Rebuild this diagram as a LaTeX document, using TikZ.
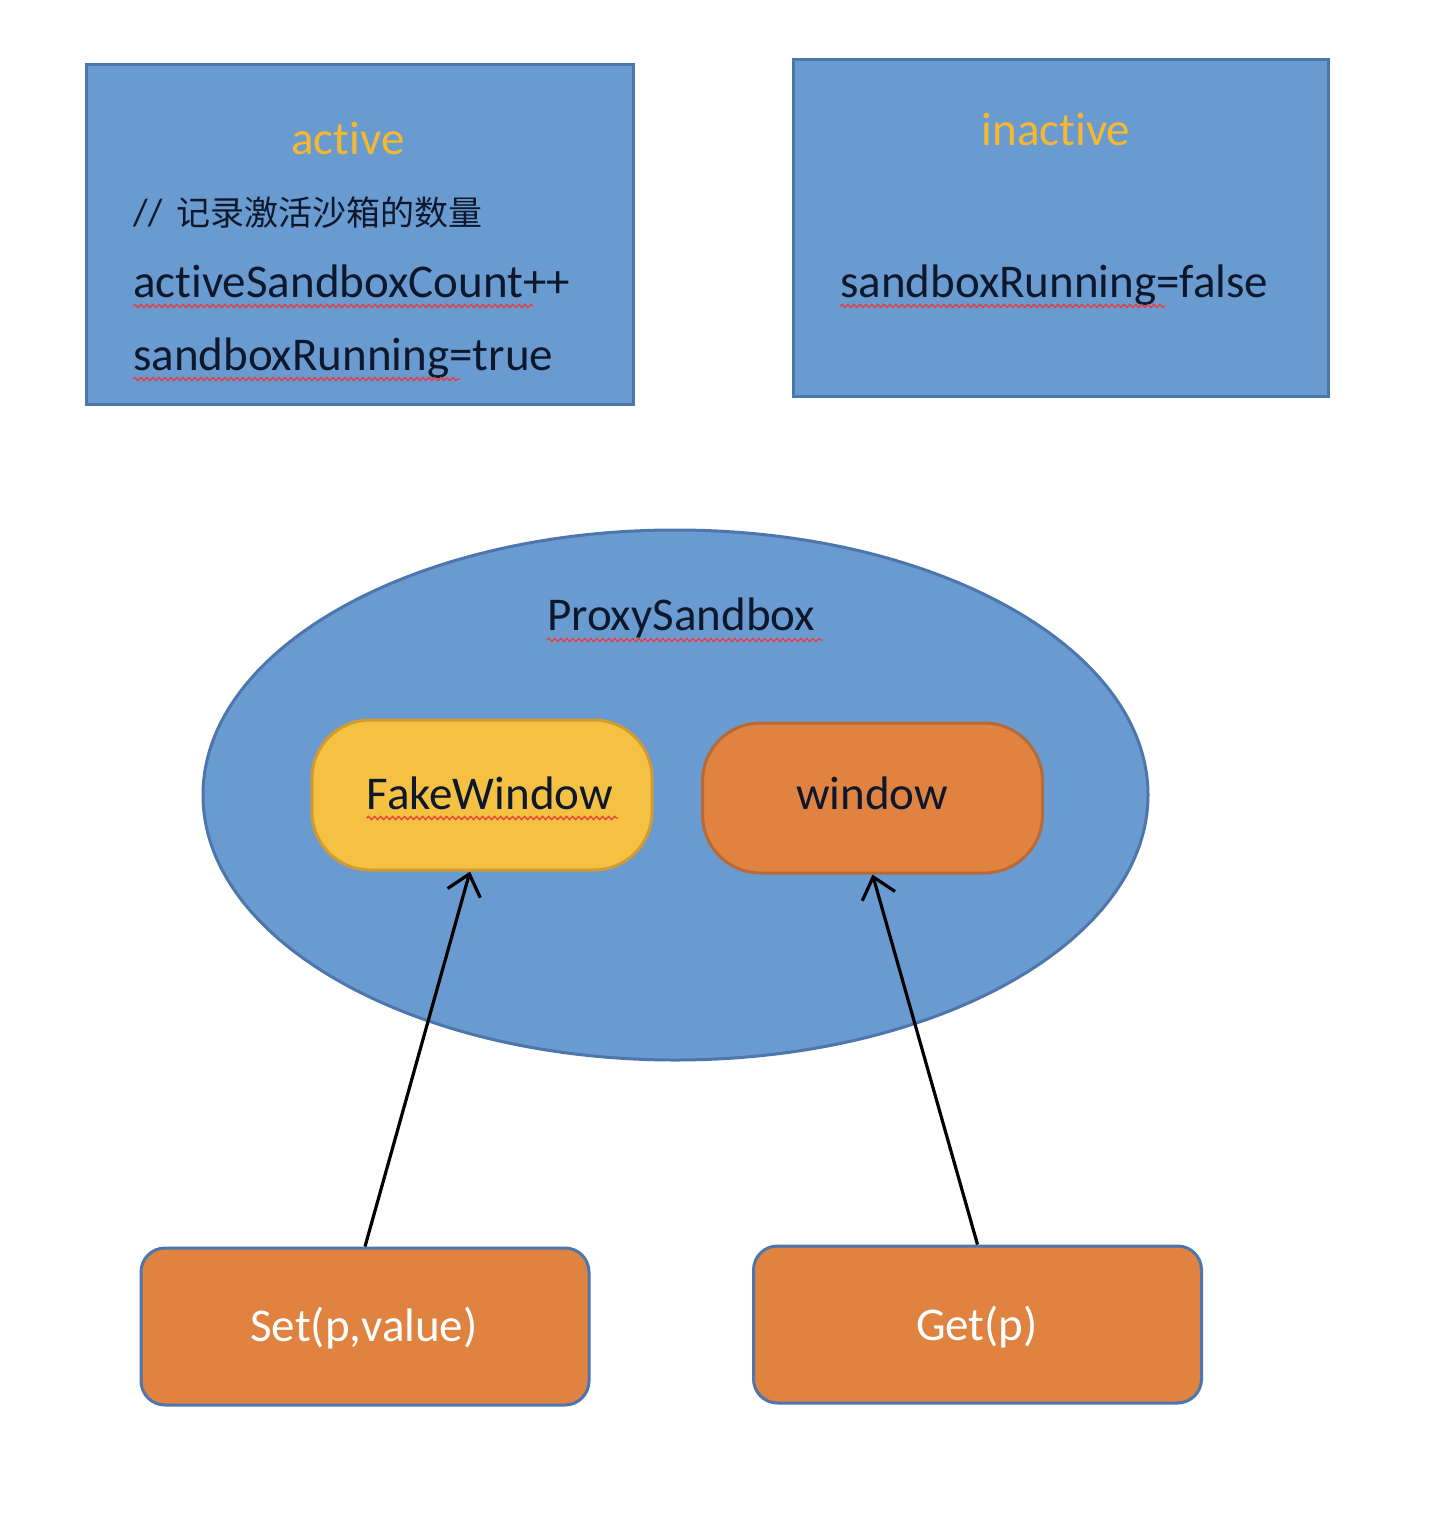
\documentclass[tikz,border=0pt]{standalone}
\usepackage{fontspec}
\setmainfont{Carlito}[Ligatures=NoCommon]
\newfontfamily\cjk{Noto Sans CJK SC}
\usetikzlibrary{shapes.geometric,arrows.meta,decorations.pathmorphing,calc}
\definecolor{boxblue}{RGB}{106,155,208}
\definecolor{boxedge}{RGB}{76,118,172}
\definecolor{titleyel}{RGB}{245,185,48}
\definecolor{inktext}{RGB}{14,24,44}
\definecolor{fwfill}{RGB}{244,193,66}
\definecolor{fwedge}{RGB}{210,155,50}
\definecolor{orfill}{RGB}{224,130,64}
\definecolor{oredge}{RGB}{182,106,56}
\definecolor{squig}{RGB}{235,60,60}
\begin{document}
\begin{tikzpicture}[x=1pt,y=-1pt,
  panel/.style={draw=boxedge,fill=boxblue,line width=3pt,inner sep=0pt},
  pill/.style={line width=3pt,rounded corners=58pt,inner sep=0pt,minimum width=340pt,minimum height=150pt},
  opbox/.style={draw=boxedge,fill=orfill,line width=3pt,rounded corners=24pt,inner sep=0pt,minimum width=448pt,minimum height=157pt},
  lbl/.style={font=\fontsize{47}{50}\selectfont,text=inktext,inner sep=0pt},
  ttl/.style={font=\fontsize{47}{50}\selectfont,text=titleyel,inner sep=0pt},
  squiggle/.style={draw=squig,line width=1.3pt,decorate,decoration={snake,amplitude=1.6pt,segment length=6pt}},
  arr/.style={draw=black,line width=3.2pt,-{Straight Barb[length=20pt,width=34pt]}}]
\useasboundingbox (0,0) rectangle (1438,1538);
\fill[white] (0,0) rectangle (1438,1538);
% top panels
\node[panel,minimum width=547pt,minimum height=339pt] (act) at (359.5,234.5) {};
\node[panel,minimum width=535pt,minimum height=336pt] (inact) at (1060.5,228) {};
\node[ttl,anchor=base] (actt) at (348,155) {active};
\node[lbl,anchor=base west,font=\fontsize{38}{40}\selectfont] (cmt) at (133,226) {//\hspace{14pt}{\cjk\fontsize{34}{36}\selectfont 记录激活沙箱的数量}};
\node[lbl,anchor=base west] (asc) at (133,297) {activeSandboxCount++};
\node[lbl,anchor=base west] (sbt) at (133,370) {sandboxRunning=true};
\node[ttl,anchor=base] (inactt) at (1056,146) {inactive};
\node[lbl,anchor=base west] (sbf) at (840,297) {sandboxRunning=false};
% ellipse
\node[ellipse,draw=boxedge,fill=boxblue,line width=3pt,inner sep=0pt,minimum width=945pt,minimum height=530pt] (proxy) at (675.5,795) {};
\node[lbl,anchor=base] (proxyt) at (681,630) {ProxySandbox};
\node[pill,draw=fwedge,fill=fwfill] (fw) at (482,795) {};
\node[lbl,anchor=base] (fwt) at (490,809) {FakeWindow};
\node[pill,draw=oredge,fill=orfill] (win) at (872.5,798) {};
\node[lbl,anchor=base] (wint) at (872,809) {window};
% bottom boxes
\node[opbox] (set) at (365,1326.5) {};
\node[lbl,anchor=base,text=white] (sett) at (364,1341) {Set(p,value)};
\node[opbox] (get) at (977.5,1324.5) {};
\node[lbl,anchor=base,text=white] (gett) at (977,1340) {Get(p)};
% spell-check underlines
\path[squiggle] ($(asc.base west)+(0,9)$) -- ++(400,0);
\path[squiggle] ($(sbt.base west)+(0,9)$) -- ++(327,0);
\path[squiggle] ($(sbf.base west)+(0,9)$) -- ++(325,0);
\path[squiggle] ($(proxyt.base west)+(0,10)$) -- ++(276,0);
\path[squiggle] ($(fwt.base west)+(0,9)$) -- ++(251,0);
% arrows
\draw[arr] (set.north) -- ($(fw.south)+(-12,0)$);
\draw[arr] (get.north) -- (win.south);
\end{tikzpicture}
\end{document}
